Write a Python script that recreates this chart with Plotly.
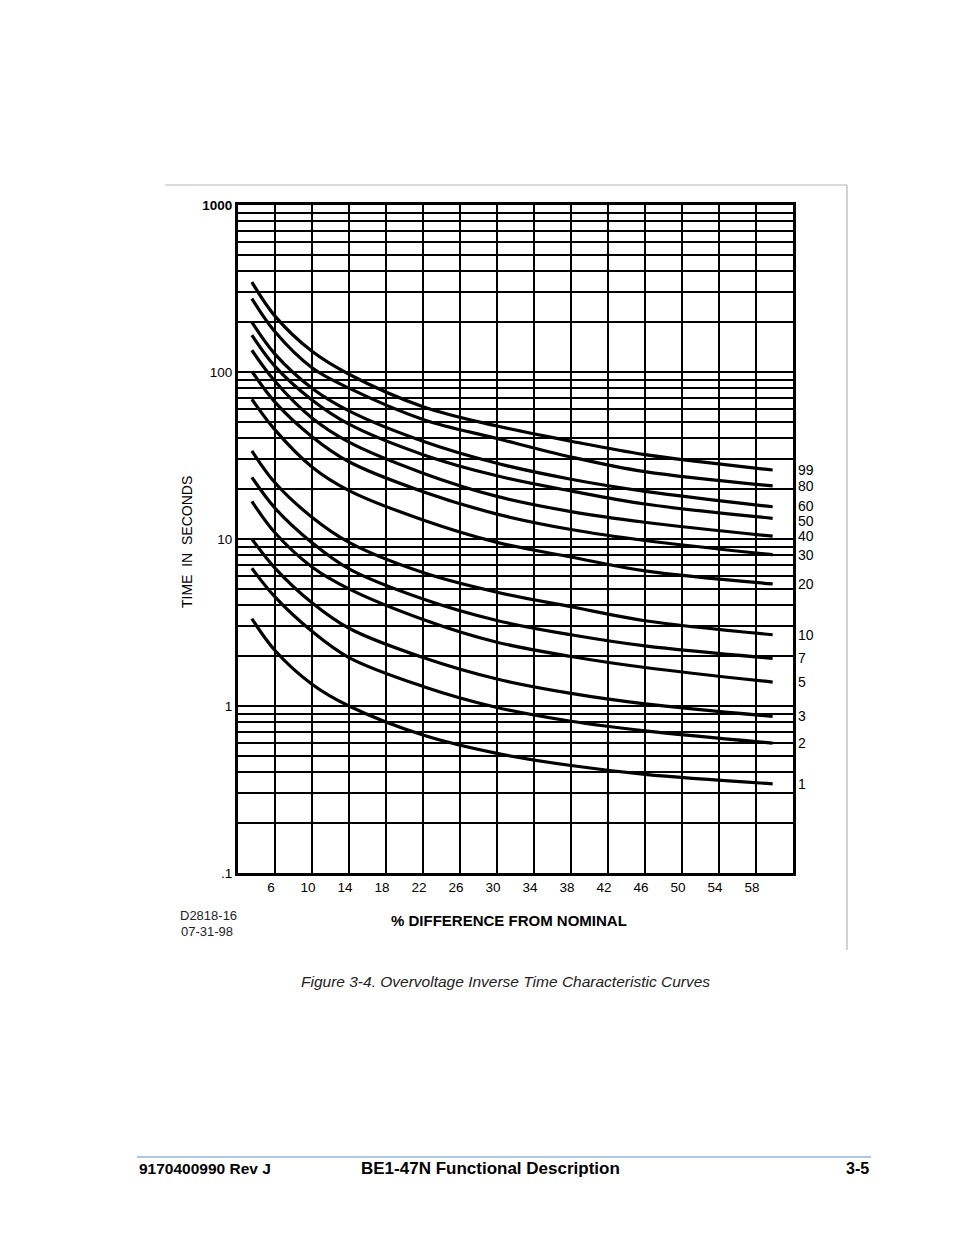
import math
import plotly.graph_objects as go

# ---- data ----
x_pct = [3.5, 6, 10, 14, 22, 30, 38, 46, 59.8]

t_99 = [345, 216, 133, 97, 62, 47.5, 38.5, 32, 25.9]
t_80 = [275, 174, 106, 80, 52, 40, 31, 25.3, 20.8]
t_60 = [199, 128, 80, 58.5, 38.5, 28.4, 22.8, 19.3, 15.6]
t_50 = [166, 108, 68, 48.7, 32, 23.9, 19.4, 16.2, 13.3]
t_40 = [135, 88, 53, 38, 24.8, 18.0, 14.6, 12.6, 10.4]
t_30 = [101, 66, 41, 29, 19.2, 14.1, 11.4, 9.8, 8.06]
t_20 = [68.7, 45, 27, 19.5, 13.0, 9.55, 7.8, 6.44, 5.38]
t_10 = [33.7, 21.7, 13.5, 9.55, 6.3, 4.8, 3.93, 3.24, 2.67]
t_7 = [23.4, 15.3, 9.5, 6.62, 4.37, 3.25, 2.67, 2.29, 1.93]
t_5 = [16.8, 10.9, 6.8, 5.03, 3.3, 2.41, 1.98, 1.70, 1.39]
t_3 = [10.0, 6.7, 4.15, 2.92, 1.95, 1.45, 1.19, 1.03, 0.867]
t_2 = [6.68, 4.5, 2.8, 1.95, 1.31, 0.98, 0.81, 0.71, 0.60]
t_1 = [3.33, 2.15, 1.35, 1.0, 0.67, 0.52, 0.44, 0.39, 0.342]

curve_labels = ["99", "80", "60", "50", "40", "30", "20", "10", "7", "5", "3", "2", "1"]
curve_series = [t_99, t_80, t_60, t_50, t_40, t_30, t_20, t_10, t_7, t_5, t_3, t_2, t_1]

x_ticks = [6, 10, 14, 18, 22, 26, 30, 34, 38, 42, 46, 50, 54, 58]
y_ticks = [0.1, 1, 10, 100, 1000]
y_ticktext = [".1", "1", "10", "100", "<b>1000</b>"]
y_minor = [m * 10 ** e for e in range(-1, 3) for m in range(2, 10)]

# ---- figure ----
W, H = 954, 1235
L, R, T, B = 238, 793, 205, 873


def px(xp):
    return (xp - L) / (R - L)


def py(yp):
    return (B - yp) / (B - T)


FONT = "Liberation Sans, Arial, sans-serif"

fig = go.Figure()
for lab, ys in zip(curve_labels, curve_series):
    fig.add_trace(go.Scatter(
        x=x_pct, y=ys, mode="lines", name=lab,
        line=dict(color="black", width=3.2, shape="spline", smoothing=1.0),
        showlegend=False, hoverinfo="skip",
    ))

label_nudge = {"60": 1, "50": -3, "40": 0}
annotations = []
for lab, ys in zip(curve_labels, curve_series):
    annotations.append(dict(
        x=1.0, xref="paper", xanchor="left", xshift=3,
        y=math.log10(ys[-1]), yref="y", yanchor="middle", yshift=label_nudge.get(lab, 0),
        text=lab, showarrow=False,
        font=dict(family=FONT, size=14, color="black"),
    ))

annotations += [
    dict(x=px(178), y=py(915), xref="paper", yref="paper", xanchor="left", yanchor="middle",
         text="D2818-16", showarrow=False, font=dict(family=FONT, size=13, color="#222")),
    dict(x=px(179), y=py(931), xref="paper", yref="paper", xanchor="left", yanchor="middle",
         text="07-31-98", showarrow=False, font=dict(family=FONT, size=13, color="#222")),
    dict(x=px(509), y=py(920), xref="paper", yref="paper", xanchor="center", yanchor="middle",
         text="<b>% DIFFERENCE FROM NOMINAL</b>", showarrow=False,
         font=dict(family=FONT, size=15, color="black")),
    dict(x=px(187), y=py(542), xref="paper", yref="paper", xanchor="center", yanchor="middle",
         text="TIME  IN  SECONDS", textangle=-90, showarrow=False,
         font=dict(family=FONT, size=14, color="black")),
    dict(x=px(505), y=py(981), xref="paper", yref="paper", xanchor="center", yanchor="middle",
         text="<i>Figure 3-4. Overvoltage Inverse Time Characteristic Curves</i>", showarrow=False,
         font=dict(family=FONT, size=15.5, color="#222")),
    dict(x=px(137), y=py(1168), xref="paper", yref="paper", xanchor="left", yanchor="middle",
         text="<b>9170400990 Rev J</b>", showarrow=False,
         font=dict(family=FONT, size=15.5, color="black")),
    dict(x=px(490), y=py(1168), xref="paper", yref="paper", xanchor="center", yanchor="middle",
         text="<b>BE1-47N Functional Description</b>", showarrow=False,
         font=dict(family=FONT, size=17, color="black")),
    dict(x=px(871), y=py(1168), xref="paper", yref="paper", xanchor="right", yanchor="middle",
         text="<b>3-5</b>", showarrow=False,
         font=dict(family=FONT, size=16, color="black")),
]

shapes = [
    # gray image frame
    dict(type="line", xref="paper", yref="paper", x0=px(165), x1=px(847), y0=py(185), y1=py(185),
         line=dict(color="#b4b4b4", width=1.2)),
    dict(type="line", xref="paper", yref="paper", x0=px(847), x1=px(847), y0=py(185), y1=py(950),
         line=dict(color="#b4b4b4", width=1.2)),
    # footer rule
    dict(type="line", xref="paper", yref="paper", x0=px(137), x1=px(871), y0=py(1157), y1=py(1157),
         line=dict(color="#5b8fd0", width=1)),
]

fig.update_layout(
    width=W, height=H, autosize=False,
    margin=dict(l=L, r=W - R, t=T, b=H - B, pad=0),
    paper_bgcolor="white", plot_bgcolor="white",
    font=dict(family=FONT, size=13, color="black"),
    annotations=annotations, shapes=shapes,
    showlegend=False,
)

fig.update_xaxes(
    range=[2, 62], tickmode="array", tickvals=x_ticks, ticktext=[str(v) for v in x_ticks],
    showgrid=True, gridcolor="black", gridwidth=2,
    showline=True, linecolor="black", linewidth=3, mirror=True,
    ticks="", zeroline=False, ticklabelshift=-4,
    tickfont=dict(family=FONT, size=13.5, color="black"),
)
fig.update_yaxes(
    type="log", range=[-1, 3], tickmode="array", tickvals=y_ticks, ticktext=y_ticktext,
    showgrid=True, gridcolor="black", gridwidth=2,
    minor=dict(tickmode="array", tickvals=y_minor, showgrid=True, gridcolor="black", gridwidth=2, ticks=""),
    showline=True, linecolor="black", linewidth=3, mirror=True,
    ticks="", zeroline=False,
    tickfont=dict(family=FONT, size=13.5, color="black"),
)

fig.write_html("out.html", config={"displayModeBar": False},
               post_script="document.body.style.margin='0';")
